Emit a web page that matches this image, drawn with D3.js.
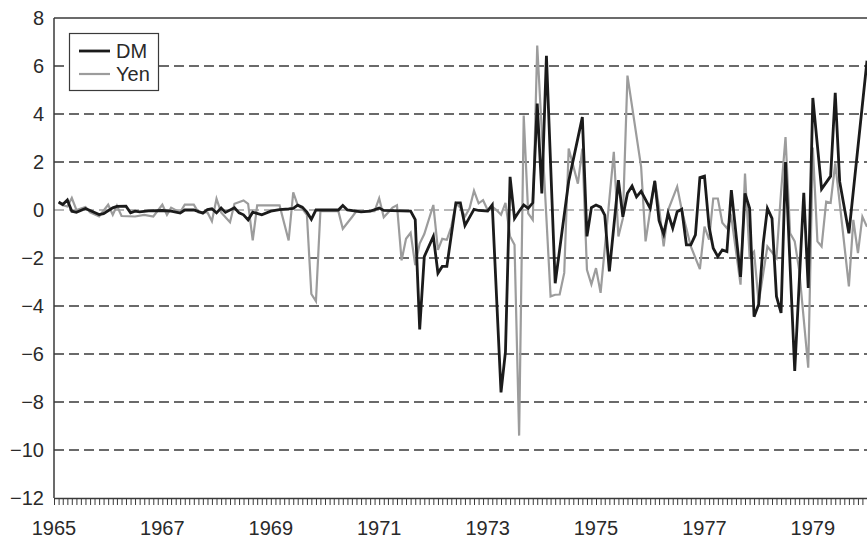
<!DOCTYPE html>
<html>
<head>
<meta charset="utf-8">
<script src="https://cdn.jsdelivr.net/npm/d3@7"></script>
<style>
html, body { margin: 0; padding: 0; background: #fff; }
svg { display: block; font-family: "Liberation Sans", Arial, sans-serif; }
</style>
</head>
<body>
<svg id="chart" width="867" height="539"></svg>
<script>
// series names, ticks and monthly values
const seriesNames = ["DM", "Yen"];
const yTicks = [8, 6, 4, 2, 0, -2, -4, -6, -8, -10, -12];
const yearLabels = [1965, 1967, 1969, 1971, 1973, 1975, 1977, 1979];

const dmPoints = [
  ["1965-02", 0.33], ["1965-03", 0.23], ["1965-04", 0.42], ["1965-05", -0.05], ["1965-06", -0.1],
  ["1965-08", 0.06], ["1965-09", -0.02], ["1965-11", -0.19], ["1965-12", -0.15], ["1966-02", 0.09],
  ["1966-03", 0.15], ["1966-05", 0.16], ["1966-06", -0.12], ["1966-07", -0.05], ["1966-08", -0.08],
  ["1966-10", -0.04], ["1967-01", -0.02], ["1967-03", -0.05], ["1967-05", -0.13], ["1967-06", 0],
  ["1967-08", 0], ["1967-10", -0.13], ["1967-11", 0.02], ["1967-12", 0.05], ["1968-01", -0.12],
  ["1968-02", 0.08], ["1968-03", -0.1], ["1968-05", 0.09], ["1968-06", -0.12], ["1968-07", -0.2],
  ["1968-08", -0.41], ["1968-09", -0.09], ["1968-11", -0.2], ["1969-01", -0.05], ["1969-03", 0.02],
  ["1969-05", 0.05], ["1969-06", 0.07], ["1969-07", 0.2], ["1969-08", 0.12], ["1969-09", -0.09],
  ["1969-10", -0.39], ["1969-11", 0], ["1970-04", 0], ["1970-05", 0.19], ["1970-06", 0],
  ["1970-09", -0.08], ["1970-11", -0.05], ["1971-01", 0.08], ["1971-02", -0.02], ["1971-08", -0.05],
  ["1971-09", -0.4], ["1971-10", -4.98], ["1971-11", -1.94], ["1972-01", -1.1], ["1972-02", -2.63],
  ["1972-03", -2.35], ["1972-04", -2.35], ["1972-06", 0.3], ["1972-07", 0.3], ["1972-08", -0.65],
  ["1972-10", 0.03], ["1972-11", -0.02], ["1973-01", -0.04], ["1973-02", 0.21], ["1973-04", -7.6],
  ["1973-05", -5.9], ["1973-06", 1.38], ["1973-07", -0.35], ["1973-08", -0.05], ["1973-09", 0.21],
  ["1973-10", 0.07], ["1973-11", 0.3], ["1973-12", 4.43], ["1974-01", 0.69], ["1974-02", 6.43],
  ["1974-04", -3.05], ["1974-07", 1.2], ["1974-10", 3.87], ["1974-11", -1.1], ["1974-12", 0.1],
  ["1975-01", 0.21], ["1975-02", 0.12], ["1975-03", -0.21], ["1975-04", -2.56], ["1975-06", 1.24],
  ["1975-07", -0.28], ["1975-08", 0.7], ["1975-09", 1.0], ["1975-10", 0.55], ["1975-11", 0.78],
  ["1976-01", 0.07], ["1976-02", 1.2], ["1976-03", -0.45], ["1976-04", -1.0], ["1976-05", -0.14],
  ["1976-06", -0.76], ["1976-07", -0.07], ["1976-08", 0.03], ["1976-09", -1.45], ["1976-10", -1.45],
  ["1976-11", -1.04], ["1976-12", 1.35], ["1977-01", 1.41], ["1977-02", -0.7], ["1977-03", -1.59],
  ["1977-04", -1.94], ["1977-05", -1.66], ["1977-06", -1.73], ["1977-07", 0.83], ["1977-09", -2.79],
  ["1977-10", 0.69], ["1977-11", 0.07], ["1977-12", -4.45], ["1978-01", -3.94], ["1978-02", -1.38],
  ["1978-03", 0.07], ["1978-04", -0.35], ["1978-05", -3.6], ["1978-06", -4.29], ["1978-07", 2.0],
  ["1978-09", -6.71], ["1978-11", 0.72], ["1978-12", -3.25], ["1979-01", 4.67], ["1979-03", 0.87],
  ["1979-05", 1.41], ["1979-06", 4.88], ["1979-07", 1.18], ["1979-09", -0.97], ["1980-01", 6.22]
];

const yenPoints = [
  ["1965-02", 0.3], ["1965-03", 0.2], ["1965-04", 0.15], ["1965-05", 0.5], ["1965-06", 0],
  ["1965-08", 0.12], ["1965-09", -0.1], ["1965-11", -0.27], ["1966-01", 0.22], ["1966-02", -0.2],
  ["1966-03", 0.18], ["1966-04", -0.25], ["1966-07", -0.27], ["1966-09", -0.2], ["1966-11", -0.27],
  ["1967-01", 0.22], ["1967-02", -0.2], ["1967-03", 0.1], ["1967-05", -0.1], ["1967-06", 0.22],
  ["1967-08", 0.22], ["1967-09", -0.1], ["1967-11", -0.1], ["1967-12", -0.47], ["1968-01", 0.47],
  ["1968-02", -0.1], ["1968-04", -0.51], ["1968-05", 0.26], ["1968-07", 0.4], ["1968-08", 0.26],
  ["1968-09", -1.27], ["1968-10", 0.19], ["1968-12", 0.19], ["1969-03", 0.19], ["1969-05", -1.27],
  ["1969-06", 0.74], ["1969-07", 0.2], ["1969-08", 0.05], ["1969-09", -0.2], ["1969-10", -3.5],
  ["1969-11", -3.8], ["1969-12", -0.05], ["1970-04", -0.05], ["1970-05", -0.78], ["1970-07", -0.3],
  ["1970-08", -0.05], ["1970-12", -0.05], ["1971-01", 0.49], ["1971-02", -0.3], ["1971-03", -0.12],
  ["1971-04", 0.1], ["1971-05", 0.2], ["1971-06", -2.1], ["1971-07", -1.2], ["1971-08", -0.95],
  ["1971-09", -2.3], ["1971-10", -1.4], ["1971-11", -1.0], ["1972-01", 0.21], ["1972-02", -1.66],
  ["1972-03", -1.2], ["1972-04", -1.24], ["1972-05", -0.7], ["1972-06", 0.28], ["1972-07", 0.1],
  ["1972-08", -0.27], ["1972-09", 0.07], ["1972-10", 0.8], ["1972-11", 0.28], ["1972-12", 0.41],
  ["1973-01", 0], ["1973-02", 0.14], ["1973-03", 0], ["1973-04", -0.2], ["1973-05", 0.3],
  ["1973-06", -1.1], ["1973-07", -1.45], ["1973-08", -9.4], ["1973-09", 3.94], ["1973-10", -0.14],
  ["1973-11", -0.41], ["1973-12", 6.85], ["1974-03", -3.6], ["1974-04", -3.53], ["1974-05", -3.52],
  ["1974-06", -2.62], ["1974-07", 2.56], ["1974-09", 1.1], ["1974-10", 2.56], ["1974-11", -2.49],
  ["1974-12", -3.1], ["1975-01", -2.42], ["1975-02", -3.45], ["1975-05", 2.42], ["1975-06", -1.1],
  ["1975-07", -0.35], ["1975-08", 5.6], ["1975-11", 1.8], ["1975-12", -1.31], ["1976-02", 1.24],
  ["1976-03", 0.1], ["1976-04", -1.52], ["1976-05", 0], ["1976-07", 0.97], ["1976-08", 0],
  ["1976-10", -1.52], ["1976-12", -2.46], ["1977-01", -0.69], ["1977-02", -1.24], ["1977-03", 0.48],
  ["1977-04", 0.48], ["1977-05", -0.53], ["1977-06", -0.76], ["1977-07", -0.3], ["1977-09", -3.11],
  ["1977-10", 1.52], ["1977-11", -1.94], ["1977-12", -1.73], ["1978-01", -3.87], ["1978-03", -1.52],
  ["1978-05", -2.0], ["1978-06", 0.76], ["1978-07", 3.04], ["1978-08", -0.97], ["1978-09", -1.31],
  ["1978-10", -2.5], ["1978-12", -6.57], ["1979-01", 2.6], ["1979-02", -1.31], ["1979-03", -1.52],
  ["1979-04", 0.35], ["1979-05", 0.3], ["1979-06", 1.94], ["1979-07", 0.3], ["1979-09", -3.18],
  ["1979-10", -0.41], ["1979-11", -1.8], ["1979-12", -0.28], ["1980-01", -0.7]
];

const chart = {

    dims : {
        width : 867,
        height : 539,
        left : 54,
        right : 867,
        top : 18,
        bottom : 498
    },

    colors : {
        dm : "#1b1b1b",
        yen : "#9c9c9c",
        grid : "#3a3a3a",
        zero : "#a0a0a0",
        text : "#2a2a2a"
    },

    parse : d3.timeParse("%Y-%m"),

    init : function() {

        const d = chart.dims;
        const svg = d3.select("#chart");

        const x = d3.scaleTime()
          .domain([new Date(1965, 0, 1), new Date(1980, 0, 1)])
          .range([d.left, d.right]);

        const y = d3.scaleLinear()
          .domain([-12, 8])
          .range([d.bottom, d.top]);

        // dashed grid lines
        svg.append("g")
          .selectAll("line")
          .data(yTicks.filter(t => t > -12 && t < 8))
          .join("line")
          .attr("x1", d.left)
          .attr("x2", d.right)
          .attr("y1", t => y(t))
          .attr("y2", t => y(t))
          .attr("stroke", t => t === 0 ? chart.colors.zero : chart.colors.grid)
          .attr("stroke-width", 1.3)
          .attr("stroke-dasharray", "10,5");

        // series, yen under DM
        const line = d3.line()
          .x(p => x(chart.parse(p[0])))
          .y(p => y(p[1]));

        svg.append("path")
          .datum(yenPoints)
          .attr("d", line)
          .attr("fill", "none")
          .attr("stroke", chart.colors.yen)
          .attr("stroke-width", 2.2);

        svg.append("path")
          .datum(dmPoints)
          .attr("d", line)
          .attr("fill", "none")
          .attr("stroke", chart.colors.dm)
          .attr("stroke-width", 2.8);

        // frame: top and left
        svg.append("line")
          .attr("x1", d.left).attr("x2", d.right)
          .attr("y1", d.top).attr("y2", d.top)
          .attr("stroke", chart.colors.grid).attr("stroke-width", 1.3);

        svg.append("line")
          .attr("x1", d.left).attr("x2", d.left)
          .attr("y1", d.top).attr("y2", d.bottom)
          .attr("stroke", chart.colors.grid).attr("stroke-width", 1.5);

        // bottom axis with monthly ticks
        const xAxis = svg.append("g")
          .attr("transform", `translate(0,${d.bottom})`)
          .call(d3.axisBottom(x)
            .ticks(d3.timeMonth.every(1))
            .tickSize(7)
            .tickSizeOuter(0)
            .tickFormat(""));

        xAxis.selectAll("line").attr("stroke", chart.colors.grid).attr("stroke-width", 1);
        xAxis.select(".domain").attr("stroke", chart.colors.grid).attr("stroke-width", 1.5);

        svg.append("g")
          .selectAll("text")
          .data(yearLabels)
          .join("text")
          .attr("x", yr => x(new Date(yr, 0, 1)))
          .attr("y", 535)
          .attr("text-anchor", "middle")
          .attr("fill", chart.colors.text)
          .style("font-size", "20px")
          .text(yr => yr);

        svg.append("g")
          .selectAll("text")
          .data(yTicks)
          .join("text")
          .attr("x", d.left - 10)
          .attr("y", t => y(t))
          .attr("dy", "0.36em")
          .attr("text-anchor", "end")
          .attr("fill", chart.colors.text)
          .style("font-size", "20px")
          .text(t => d3.format("d")(t));

        // legend
        const leg = svg.append("g");

        leg.append("rect")
          .attr("x", 69.5).attr("y", 33.5)
          .attr("width", 89).attr("height", 57)
          .attr("fill", "#fff")
          .attr("stroke", chart.colors.grid)
          .attr("stroke-width", 1.2);

        const legColors = [chart.colors.dm, chart.colors.yen];
        const legWidths = [2.8, 2.2];

        seriesNames.forEach((name, i) => {

            const ly = 51 + i * 23;

            leg.append("line")
              .attr("x1", 79).attr("x2", 110)
              .attr("y1", ly).attr("y2", ly)
              .attr("stroke", legColors[i])
              .attr("stroke-width", legWidths[i]);

            leg.append("text")
              .attr("x", 116)
              .attr("y", ly)
              .attr("dy", "0.36em")
              .attr("fill", chart.colors.text)
              .style("font-size", "20px")
              .text(name);

        });

    }

};

chart.init();
</script>
</body>
</html>
